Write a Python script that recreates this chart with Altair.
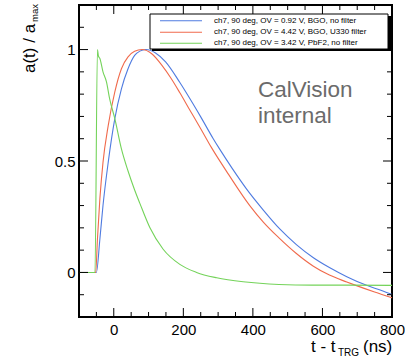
import altair as alt
import pandas as pd

FONT = "Liberation Sans"

# ---- data ----
names = [
    "ch7, 90 deg, OV = 0.92 V, BGO, no filter",
    "ch7, 90 deg, OV = 4.42 V, BGO, U330 filter",
    "ch7, 90 deg, OV = 3.42 V, PbF2, no filter",
]
colors = ["#4f7be0", "#f06a4c", "#74d35a"]

t_blue = [-100, -50, -40, -31, -16, 3, 22, 41, 60, 75, 92, 120, 149, 190, 216, 250, 286, 305, 340,
          382, 430, 478, 525, 574, 620, 670, 727, 770, 800]
blue = [0, 0, 0.149, 0.30, 0.494, 0.69, 0.824, 0.914, 0.974, 0.993, 1.0, 0.985, 0.945, 0.852, 0.787,
        0.698, 0.60, 0.552, 0.468, 0.374, 0.28, 0.194, 0.125, 0.066, 0.022, -0.019, -0.058, -0.081, -0.099]

t_red = [-100, -52, -47, -40, -31, -16, 3, 22, 41, 60, 81, 110, 138, 165, 190, 216, 250, 281, 330,
         391, 430, 475, 525, 574, 620, 670, 694, 750, 800]
red = [0, 0, 0.149, 0.33, 0.494, 0.659, 0.81, 0.914, 0.967, 0.992, 1.0, 0.98, 0.93, 0.87, 0.806,
       0.736, 0.645, 0.56, 0.44, 0.30, 0.226, 0.155, 0.085, 0.028, -0.012, -0.043, -0.057, -0.088, -0.114]

t_green = [-100, -54, -47, -44, -40, -31, -21, -12, 3, 22, 41, 60, 75, 104, 142, 190, 238, 296, 372,
           475, 570, 667, 800]
green = [0, 0, 1.0, 0.97, 0.96, 0.90, 0.855, 0.78, 0.69, 0.554, 0.455, 0.37, 0.31, 0.2, 0.104, 0.036,
         0.0, -0.024, -0.042, -0.054, -0.057, -0.057, -0.058]

x_major = [0, 200, 400, 600, 800]
x_minor = [-50, 50, 100, 150, 250, 300, 350, 450, 500, 550, 650, 700, 750]
y_major = [0, 0.5, 1]
y_minor = [-0.1, 0.1, 0.2, 0.3, 0.4, 0.6, 0.7, 0.8, 0.9, 1.1]

W, H = 313, 312

rows = []
for name, ts, vs in [(names[0], t_blue, blue), (names[1], t_red, red), (names[2], t_green, green)]:
    for i, (t, v) in enumerate(zip(ts, vs)):
        rows.append({"series": name, "t": t, "a": v, "i": i})
df = pd.DataFrame(rows)

xs = alt.Scale(domain=[-100, 800], nice=False, zero=False)
ys = alt.Scale(domain=[-0.2, 1.2], nice=False, zero=False)
ax_x = alt.Axis(values=x_major, ticks=False, domain=False, grid=False, labelFontSize=15,
                labelPadding=5, title=None, labelFlush=False, labelOverlap=False)
ax_y = alt.Axis(values=y_major, ticks=False, domain=False, grid=False, labelFontSize=15,
                labelPadding=4, title=None, format="~g", labelFlush=False, labelOverlap=False)

lines = alt.Chart(df).mark_line(strokeWidth=1.1, interpolate="monotone").encode(
    x=alt.X("t:Q", scale=xs, axis=ax_x),
    y=alt.Y("a:Q", scale=ys, axis=ax_y),
    color=alt.Color("series:N", scale=alt.Scale(domain=names, range=colors), legend=None),
    order="i:Q",
)


def xticks(vals, length, bottom):
    return alt.Chart(pd.DataFrame({"v": vals})).mark_rule(color="black", strokeWidth=1).encode(
        x=alt.X("v:Q", scale=xs, axis=ax_x),
        y=alt.value(H if bottom else 0),
        y2=alt.value(H - length if bottom else length),
    )


def yticks(vals, length, left):
    return alt.Chart(pd.DataFrame({"v": vals})).mark_rule(color="black", strokeWidth=1).encode(
        y=alt.Y("v:Q", scale=ys, axis=ax_y),
        x=alt.value(0 if left else W),
        x2=alt.value(length if left else W - length),
    )


ticks = [
    xticks(x_major, 9, True), xticks(x_minor, 5, True),
    xticks(x_major, 9, False), xticks(x_minor, 5, False),
    yticks(y_major, 9, True), yticks(y_minor, 5, True),
    yticks(y_major, 9, False), yticks(y_minor, 5, False),
]


def txt(s, x, y, size, **kw):
    return alt.Chart(pd.DataFrame({"s": [s]})).mark_text(font=FONT, fontSize=size, **kw).encode(
        text="s:N", x=alt.value(x), y=alt.value(y))


one = pd.DataFrame({"k": [0]})
shadow = alt.Chart(one).mark_rect(fill="black").encode(
    x=alt.value(73), x2=alt.value(312), y=alt.value(11), y2=alt.value(46))
box = alt.Chart(one).mark_rect(fill="white", stroke="black", strokeWidth=1).encode(
    x=alt.value(71), x2=alt.value(309), y=alt.value(9), y2=alt.value(44))

legend_layers = [shadow, box]
row_y = [15.7, 27.3, 38.3]
for k in range(3):
    legend_layers.append(alt.Chart(one).mark_rule(color=colors[k], strokeWidth=1.1).encode(
        x=alt.value(81), x2=alt.value(123), y=alt.value(row_y[k])))
    legend_layers.append(txt(names[k], 135, row_y[k], 8, align="left", baseline="middle", color="black"))

annot = [
    txt("CalVision", 179, 92, 22.5, align="left", baseline="alphabetic", color="#6b6b6b"),
    txt("internal", 179, 118, 22.5, align="left", baseline="alphabetic", color="#6b6b6b"),
    # y title
    txt("a(t) / a", -44, 68, 17, align="left", baseline="alphabetic", angle=270, color="black"),
    txt("max", -41, 17, 9.5, align="left", baseline="alphabetic", angle=270, color="black"),
    # x title
    txt("t - t", 232, 347, 17, align="left", baseline="alphabetic", color="black"),
    txt("TRG", 259, 351, 10, align="left", baseline="alphabetic", color="black"),
    txt("(ns)", 284, 347, 17, align="left", baseline="alphabetic", color="black"),
]

chart = alt.layer(lines, *ticks, *legend_layers, *annot).properties(
    width=W, height=H,
    autosize=alt.AutoSizeParams(type="none"),
    padding={"left": 79, "top": 5, "right": 13, "bottom": 41},
).configure_view(stroke="black", strokeWidth=2).configure_axis(
    labelFont=FONT, labelColor="black")

chart.save("out.html", embed_options={"renderer": "svg", "actions": False})
